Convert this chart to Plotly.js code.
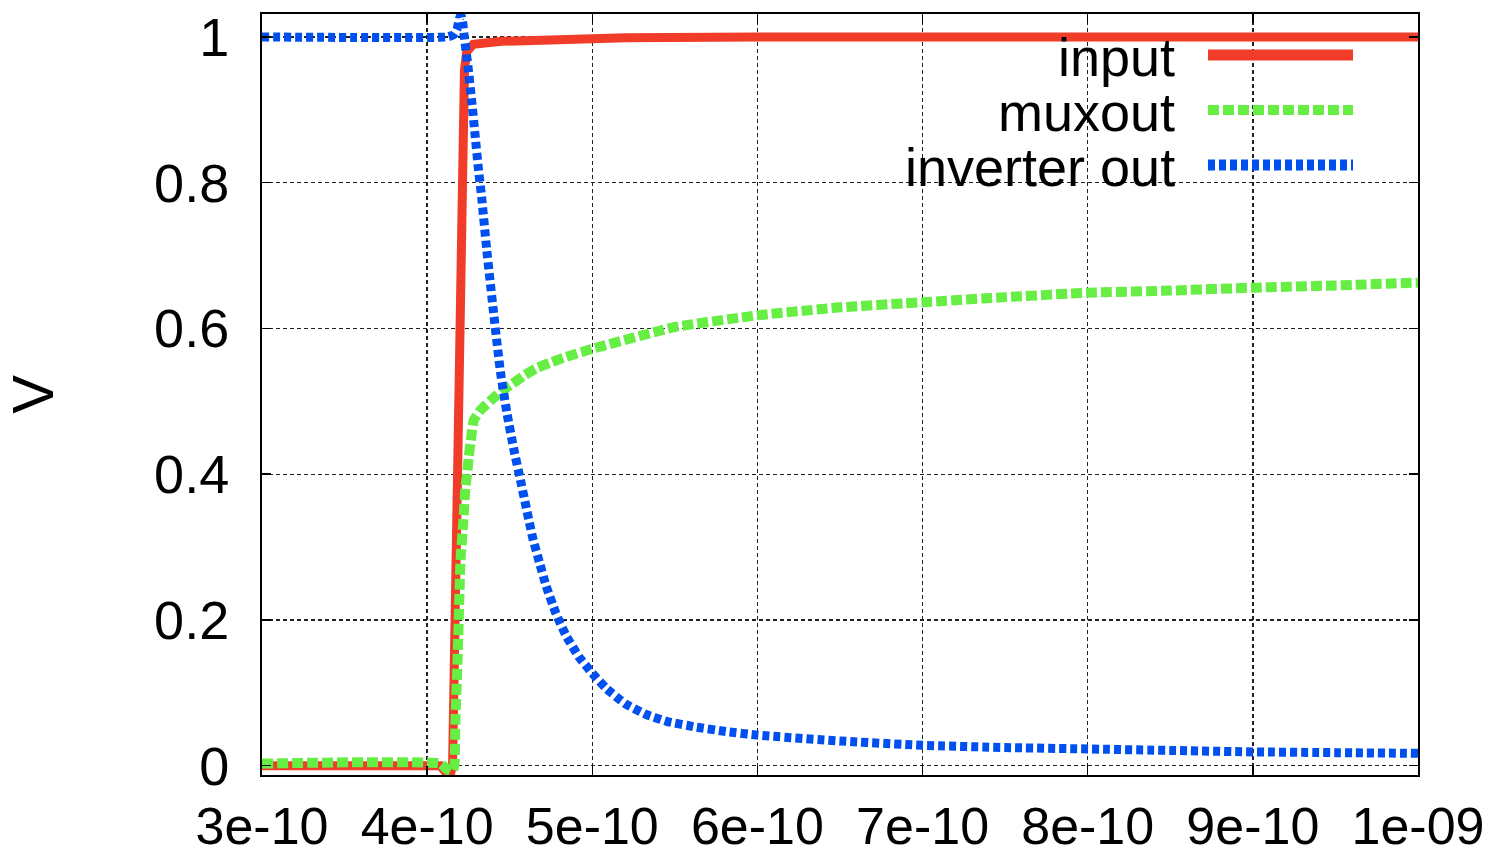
<!DOCTYPE html>
<html>
<head>
<meta charset="utf-8">
<script src="https://cdn.plot.ly/plotly-3.0.1.min.js"></script>
<style>html,body{margin:0;padding:0;background:#fff;}#chart{width:1500px;height:857px;}</style>
</head>
<body>
<div id="chart"></div>
<script>
// ---- data ----
const seriesNames = ["input", "muxout", "inverter out"];

const tInput = [3.0e-10, 4.08e-10, 4.11e-10, 4.14e-10, 4.154e-10, 4.171e-10, 4.186e-10, 4.202e-10, 4.217e-10, 4.226e-10, 4.24e-10, 4.28e-10, 4.45e-10, 4.74e-10, 5.2e-10, 6.0e-10, 1.0e-9];
const vInput = [0, 0, -0.008, -0.012, 0, 0.25, 0.45, 0.65, 0.87, 0.955, 0.98, 0.99, 0.994, 0.997, 0.999, 1.0, 1.0];

const tMux = [3.0e-10, 4.08e-10, 4.12e-10, 4.15e-10, 4.165e-10, 4.171e-10, 4.185e-10, 4.202e-10, 4.218e-10, 4.232e-10, 4.242e-10, 4.252e-10, 4.262e-10, 4.272e-10, 4.282e-10, 4.323e-10, 4.384e-10, 4.444e-10, 4.515e-10, 4.585e-10, 4.666e-10, 4.746e-10, 4.827e-10, 5.0e-10, 5.5e-10, 6.0e-10, 6.5e-10, 7.0e-10, 7.5e-10, 8.0e-10, 8.5e-10, 9.0e-10, 9.5e-10, 1.0e-9];
const vMux = [0.003, 0.003, -0.005, -0.008, 0.0, 0.06, 0.15, 0.282, 0.332, 0.382, 0.4, 0.424, 0.442, 0.46, 0.474, 0.488, 0.501, 0.513, 0.524, 0.535, 0.546, 0.553, 0.56, 0.572, 0.602, 0.618, 0.629, 0.636, 0.643, 0.649, 0.652, 0.656, 0.659, 0.663];

const tInv = [3.0e-10, 4.12e-10, 4.16e-10, 4.18e-10, 4.195e-10, 4.205e-10, 4.215e-10, 4.225e-10, 4.247e-10, 4.27e-10, 4.29e-10, 4.31e-10, 4.33e-10, 4.36e-10, 4.403e-10, 4.444e-10, 4.484e-10, 4.524e-10, 4.565e-10, 4.615e-10, 4.64e-10, 4.68e-10, 4.72e-10, 4.78e-10, 4.84e-10, 4.92e-10, 5.0e-10, 5.085e-10, 5.2e-10, 5.33e-10, 5.45e-10, 5.63e-10, 5.81e-10, 6.0e-10, 6.5e-10, 7.0e-10, 7.5e-10, 8.0e-10, 8.5e-10, 9.0e-10, 9.5e-10, 1.0e-9];
const vInv = [1.0, 1.0, 1.003, 1.01, 1.025, 1.03, 1.02, 1.0, 0.96, 0.912, 0.866, 0.82, 0.78, 0.71, 0.62, 0.54, 0.483, 0.435, 0.392, 0.338, 0.312, 0.279, 0.247, 0.209, 0.179, 0.149, 0.127, 0.106, 0.085, 0.07, 0.061, 0.053, 0.047, 0.042, 0.034, 0.028, 0.025, 0.023, 0.021, 0.019, 0.018, 0.017];

const xTickVals = [3e-10, 4e-10, 5e-10, 6e-10, 7e-10, 8e-10, 9e-10, 1e-9];
const xTickText = ["3e-10", "4e-10", "5e-10", "6e-10", "7e-10", "8e-10", "9e-10", "1e-09"];
const yTickVals = [0, 0.2, 0.4, 0.6, 0.8, 1];
const yTickText = ["0", "0.2", "0.4", "0.6", "0.8", "1"];
const yTitle = "V";

// ---- styles ----
const colors = ["#f03c28", "#66ee44", "#0050f0"];
const FONT = "Liberation Sans, Arial, Helvetica, sans-serif";
const FS = 54;
const W = 1500, H = 857;
const M = {l: 262, r: 82, t: 14, b: 82};
const PW = W - M.l - M.r, PH = H - M.t - M.b;
const px2x = p => (p - M.l) / PW;
const px2y = p => (H - M.b - p) / PH;

const traces = [
  {x: tInput, y: vInput, name: seriesNames[0], mode: "lines",
   line: {color: colors[0], width: 9}},
  {x: tMux, y: vMux, name: seriesNames[1], mode: "lines",
   line: {color: colors[1], width: 10, dash: "11px,4px", shape: "spline", smoothing: 0.4}},
  {x: tInv, y: vInv, name: seriesNames[2], mode: "lines",
   line: {color: colors[2], width: 9, dash: "7px,4px", shape: "spline", smoothing: 0.4}}
];

// manual legend (text right-aligned, sample on the right)
const legendRows = [57, 112, 167];
const sampleRows = [55, 110, 165];
const dashes = ["solid", "11px,4px", "7px,4px"];
const widths = [11, 10, 11];
const annotations = seriesNames.map((n, i) => ({
  xref: "paper", yref: "paper", x: px2x(1177), y: px2y(legendRows[i]),
  xanchor: "right", yanchor: "middle", showarrow: false, text: n,
  font: {family: FONT, size: FS, color: "#000"}
}));
const shapes = [
  {type: "rect", xref: "paper", yref: "paper", layer: "between",
   x0: px2x(783), x1: px2x(1390), y0: px2y(190), y1: px2y(29),
   fillcolor: "#fff", line: {width: 0}}
].concat(seriesNames.map((n, i) => ({
  type: "line", xref: "paper", yref: "paper",
  x0: px2x(1208), x1: px2x(1353), y0: px2y(sampleRows[i]), y1: px2y(sampleRows[i]),
  line: {color: colors[i], width: widths[i], dash: dashes[i]}
})));

const axisCommon = {
  showline: true, linecolor: "#000", linewidth: 2, mirror: "ticks",
  ticks: "inside", ticklen: 9, tickwidth: 1.5, tickcolor: "#000",
  showgrid: true, gridcolor: "#222", gridwidth: 1.3, griddash: "4px,3px",
  zeroline: false, fixedrange: true
};

const layout = {
  width: W, height: H, margin: M,
  paper_bgcolor: "#fff", plot_bgcolor: "#fff",
  showlegend: false,
  xaxis: Object.assign({}, axisCommon, {
    range: [3e-10, 1e-9], tickmode: "array", tickvals: xTickVals, ticktext: xTickText,
    tickfont: {family: FONT, size: 52, color: "#000"},
    ticklabelstandoff: 5
  }),
  yaxis: Object.assign({}, axisCommon, {
    range: [-0.0127, 1.0315], tickmode: "array", tickvals: yTickVals, ticktext: yTickText,
    tickfont: {family: FONT, size: FS, color: "#000"},
    ticklabelstandoff: 20,
    title: {text: yTitle, font: {family: FONT, size: 58, color: "#000"}, standoff: 91}
  }),
  annotations: annotations,
  shapes: shapes
};

Plotly.newPlot("chart", traces, layout, {staticPlot: true, displayModeBar: false});
</script>
</body>
</html>
